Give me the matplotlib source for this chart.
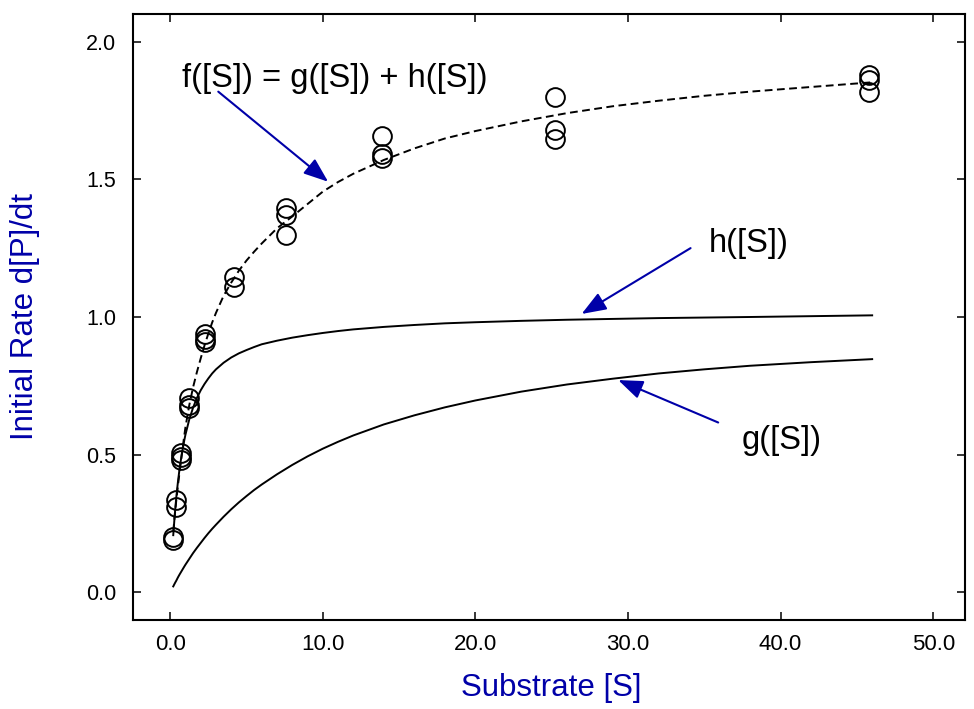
import matplotlib
matplotlib.use('Agg')
import matplotlib.pyplot as plt
from matplotlib.ticker import FormatStrFormatter

plt.rcParams['font.family'] = ['Liberation Sans', 'DejaVu Sans']

# measured rates (open circles)
s_data = [0.2, 0.2, 0.35, 0.35, 0.69, 0.69, 0.69, 1.25, 1.25, 1.25,
          2.3, 2.3, 2.3, 4.17, 4.17, 7.6, 7.6, 7.6,
          13.87, 13.87, 13.87, 25.23, 25.23, 25.23, 45.77, 45.77, 45.77]
v_data = [0.20, 0.19, 0.335, 0.31, 0.505, 0.49, 0.48, 0.705, 0.68, 0.67,
          0.94, 0.92, 0.91, 1.146, 1.11, 1.395, 1.37, 1.298,
          1.657, 1.592, 1.576, 1.798, 1.677, 1.647, 1.879, 1.861, 1.815]

# curves
s_curve = [0.2, 0.3, 0.4, 0.5, 0.6, 0.75, 0.9, 1.0, 1.25, 1.5, 1.75, 2.0,
           2.25, 2.5, 2.75, 3.0, 3.5, 4.0, 4.5, 5.0, 5.5, 6.0, 7.0, 8.0, 9.0,
           10.0, 11.0, 12.0, 14.0, 16.0, 18.0, 20.0, 23.0, 26.0, 29.0, 32.0,
           35.0, 38.0, 42.0, 46.0]
h_curve = [0.208, 0.283, 0.346, 0.398, 0.443, 0.500, 0.546, 0.573, 0.628,
           0.671, 0.706, 0.734, 0.757, 0.777, 0.795, 0.810, 0.834, 0.853,
           0.868, 0.880, 0.891, 0.901, 0.914, 0.925, 0.934, 0.942, 0.949,
           0.955, 0.964, 0.971, 0.977, 0.981, 0.986, 0.990, 0.993, 0.996,
           0.998, 1.000, 1.003, 1.006]
g_curve = [0.022, 0.033, 0.043, 0.054, 0.064, 0.078, 0.092, 0.101, 0.122,
           0.143, 0.162, 0.180, 0.198, 0.215, 0.231, 0.246, 0.275, 0.302,
           0.327, 0.350, 0.372, 0.392, 0.429, 0.463, 0.494, 0.522, 0.547,
           0.570, 0.610, 0.643, 0.672, 0.697, 0.729, 0.755, 0.776, 0.795,
           0.810, 0.823, 0.836, 0.847]
f_curve = [0.22, 0.28, 0.335, 0.385, 0.43, 0.495, 0.56, 0.60, 0.68, 0.745,
           0.80, 0.85, 0.897, 0.94, 0.98, 1.015, 1.077, 1.125, 1.168, 1.205,
           1.237, 1.267, 1.322, 1.365, 1.41, 1.455, 1.49, 1.52, 1.57, 1.612,
           1.648, 1.675, 1.71, 1.74, 1.765, 1.785, 1.803, 1.818, 1.835, 1.852]

x_ticks = [0, 10, 20, 30, 40, 50]
y_ticks = [0.0, 0.5, 1.0, 1.5, 2.0]

blue = '#0000A8'

fig = plt.figure(figsize=(9.74, 7.09), dpi=100)
ax = fig.add_axes([0.1362, 0.1255, 0.8545, 0.8548])

ax.plot(s_curve, h_curve, color='black', lw=1.4)
ax.plot(s_curve, g_curve, color='black', lw=1.4)
ax.plot(s_curve, f_curve, color='black', lw=1.4, linestyle=(0, (4, 2.3)))
ax.plot(s_data, v_data, linestyle='none', marker='o', markersize=13.5,
        markerfacecolor='none', markeredgecolor='black', markeredgewidth=1.4)

ax.set_xlim(-2.46, 52.08)
ax.set_ylim(-0.10, 2.10)
ax.set_xticks(x_ticks)
ax.set_yticks(y_ticks)
ax.xaxis.set_major_formatter(FormatStrFormatter('%.1f'))
ax.yaxis.set_major_formatter(FormatStrFormatter('%.1f'))
ax.tick_params(direction='in', length=6, width=1.1, top=True, right=True)
ax.tick_params(axis='x', pad=10, labelsize=16)
ax.tick_params(axis='y', pad=12, labelsize=15.5)
for sp in ax.spines.values():
    sp.set_linewidth(1.5)

ax.set_xlabel('Substrate [S]', color=blue, fontsize=22.5, va='center')
ax.xaxis.set_label_coords(0.5026, -0.112)
ax.set_ylabel('Initial Rate d[P]/dt', color=blue, fontsize=22.5, va='center')
ax.yaxis.set_label_coords(-0.1294, 0.5)

arrow = dict(arrowstyle='-|>,head_length=1.0,head_width=0.38', color=blue,
             lw=1.5, mutation_scale=15, shrinkA=0, shrinkB=0)
ax.text(0.75, 1.867, 'f([S]) = g([S]) + h([S])', fontsize=23.5, va='center', ha='left')
ax.annotate('', xy=(10.35, 1.491), xytext=(3.15, 1.818), arrowprops=arrow)
ax.text(35.3, 1.265, 'h([S])', fontsize=23.5, va='center', ha='left')
ax.annotate('', xy=(26.96, 1.011), xytext=(34.1, 1.250), arrowprops=arrow)
ax.text(37.44, 0.553, 'g([S])', fontsize=23.5, va='center', ha='left')
ax.annotate('', xy=(29.36, 0.771), xytext=(35.91, 0.617), arrowprops=arrow)

fig.savefig('out.png', dpi=100)
